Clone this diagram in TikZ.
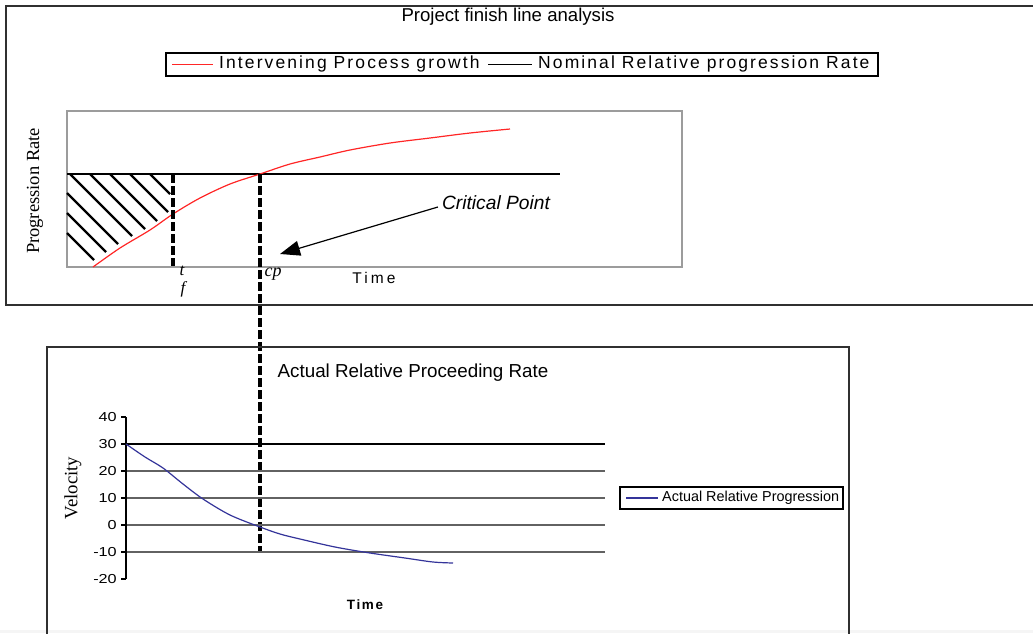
\documentclass[tikz,border=0pt]{standalone}
\usepackage{fontspec}
\setmainfont{Liberation Sans}
\newfontfamily\serifface{Liberation Serif}
\newfontfamily\widesans[LetterSpace=12]{Liberation Sans}
\newfontfamily\widersans[LetterSpace=20]{Liberation Sans}
\usetikzlibrary{arrows.meta}
\definecolor{framegray}{HTML}{303030}
\definecolor{plotgray}{HTML}{9C9C9C}
\definecolor{gridgray}{HTML}{626262}
\definecolor{growthred}{HTML}{FF2626}
\definecolor{navyline}{HTML}{34349A}

\begin{document}
\begin{tikzpicture}[x=1pt,y=-1pt,
  frame/.style={draw=framegray,line width=2pt},
  plotbox/.style={draw=plotgray,line width=1.8pt},
  keybox/.style={draw=black,line width=1.2pt,minimum width=#1,minimum height=23pt,inner sep=0pt},
  label/.style={inner sep=0pt,font=\fontsize{18.6}{20}\selectfont},
  tick/.style={inner sep=0pt,anchor=east,xscale=1.25,font=\fontsize{13}{15}\selectfont},
  growth/.style={draw=growthred,line width=1.2pt},
  nominal/.style={draw=black,line width=1.4pt},
  hatch/.style={draw=black,line width=2.4pt},
  marker/.style={draw=black,line width=3.4pt,dash pattern=on 9pt off 3pt},
  velo/.style={draw=navyline,line width=1.2pt},
  grid/.style={draw=gridgray,line width=1.7pt},
  pointer/.style={draw=black,line width=1.2pt,-{Triangle[length=20pt,width=15pt]}}
]
\useasboundingbox (0,0) rectangle (1033,633);
\fill[black!4] (0,630) rectangle (1033,633);

% ---------- upper chart: frame, title and key ----------
\draw[frame] (1040,6) -- (6,6) -- (6,305) -- (1040,305);
\node[label] (title) at (508,16.5) {Project finish line analysis};

\node[keybox=712pt] (key) at (522,64.5) {};
\coordinate (kr1) at (172,64.5);
\coordinate (kr2) at (213,64.5);
\draw[growth] (kr1) -- (kr2);
\node[inner sep=0pt,anchor=west,font=\widesans\fontsize{17.5}{18}\selectfont] (kgrowth) at (219,64) {Intervening Process growth};
\coordinate (kn1) at (488,64.5);
\coordinate (kn2) at (532,64.5);
\draw[nominal] (kn1) -- (kn2);
\node[inner sep=0pt,anchor=west,font=\widesans\fontsize{17.5}{18}\selectfont] (knominal) at (538,64) {Nominal Relative progression Rate};

% plot area
\draw[plotbox] (67,111) rectangle (682,267);
\node[label,rotate=90,font=\serifface\fontsize{18.5}{20}\selectfont] (ylabA) at (35,191) {Progression Rate};

% hatched shortfall region
\foreach \sx/\sy/\ex/\ey in {70/174/132/236, 90/174/145/229, 110/174/157/221, 130/174/168/212, 150/174/170/194,
                             67/193/118/244, 67/213/106/252, 67/233/94/260}
  \draw[hatch] (\sx,\sy) -- (\ex,\ey);

% nominal rate and growth curve
\coordinate (nomL) at (67,174);
\coordinate (nomR) at (560,174);
\draw[nominal] (nomL) -- (nomR);
\draw[growth] plot[smooth,tension=0.5] coordinates {(93,267) (120,248) (150,230) (173,214) (200,198) (230,184) (260,174) (290,164) (320,157) (350,150) (390,143) (430,138) (470,133) (510,129)};

% finish-time and critical-point markers
\coordinate (tfTop) at (173,174);
\coordinate (tfBot) at (173,266);
\draw[marker] (tfTop) -- (tfBot);
\coordinate (cpTop) at (260,174);
\coordinate (cpBot) at (260,552);
\draw[marker] (cpTop) -- (cpBot);

\node[inner sep=0pt,font=\serifface\itshape\fontsize{17}{18}\selectfont] (tlab) at (182,271) {t};
\node[inner sep=0pt,font=\serifface\itshape\fontsize{17}{18}\selectfont] (flab) at (183,289) {f};
\node[inner sep=0pt,font=\serifface\itshape\fontsize{18}{18}\selectfont] (cplab) at (273,274) {cp};
\node[inner sep=0pt,font=\widersans\fontsize{15.5}{16}\selectfont] (timeA) at (374,278) {Time};

\node[inner sep=0pt,font=\itshape\fontsize{19.2}{20}\selectfont] (crit) at (496,203) {Critical Point};
\coordinate (critTip) at (280,254);
\draw[pointer] (crit.west) ++(-4,4) -- (critTip);

% ---------- lower chart ----------
\draw[frame] (47,640) -- (47,347) -- (849,347) -- (849,640);
\node[label,font=\fontsize{18.8}{20}\selectfont] (titleB) at (413,373) {Actual Relative Proceeding Rate};

% grid lines
\foreach \yy in {471,498,525,552}
  \draw[grid] (126,\yy) -- (605,\yy);
\draw[nominal] (126,444) -- (605,444);

% value axis
\coordinate (axTop) at (126,417);
\coordinate (axBot) at (126,579);
\draw[draw=black,line width=1.4pt] (axTop) -- (axBot);
\foreach \v/\yy in {40/417,30/444,20/471,10/498,0/525,-10/552,-20/579} {
  \draw[draw=black,line width=1.4pt] (121,\yy) -- (126,\yy);
  \node[tick] at (117,\yy) {\v};
}
\node[label,rotate=90,font=\serifface\fontsize{18.8}{20}\selectfont] (ylabB) at (73,488) {Velocity};
\node[inner sep=0pt,font=\bfseries\widesans\fontsize{13.5}{15}\selectfont] (timeB) at (365,605) {Time};

% actual relative progression curve
\draw[velo] plot[smooth,tension=0.5] coordinates {(126,444) (145,457) (163,468) (183,484) (203,499) (230,515) (260,527) (280,534) (300,539) (335,547) (370,553) (405,558) (433,562) (453,563)};

% key
\node[keybox=223pt,minimum height=22pt,line width=1.1pt] (keyB) at (731.5,498) {};
\coordinate (kb1) at (626,498);
\coordinate (kb2) at (658,498);
\draw[velo] (kb1) -- (kb2);
\node[inner sep=0pt,anchor=west,font=\fontsize{14.4}{16}\selectfont] (kactual) at (662,497.5) {Actual Relative Progression};
\end{tikzpicture}
\end{document}
